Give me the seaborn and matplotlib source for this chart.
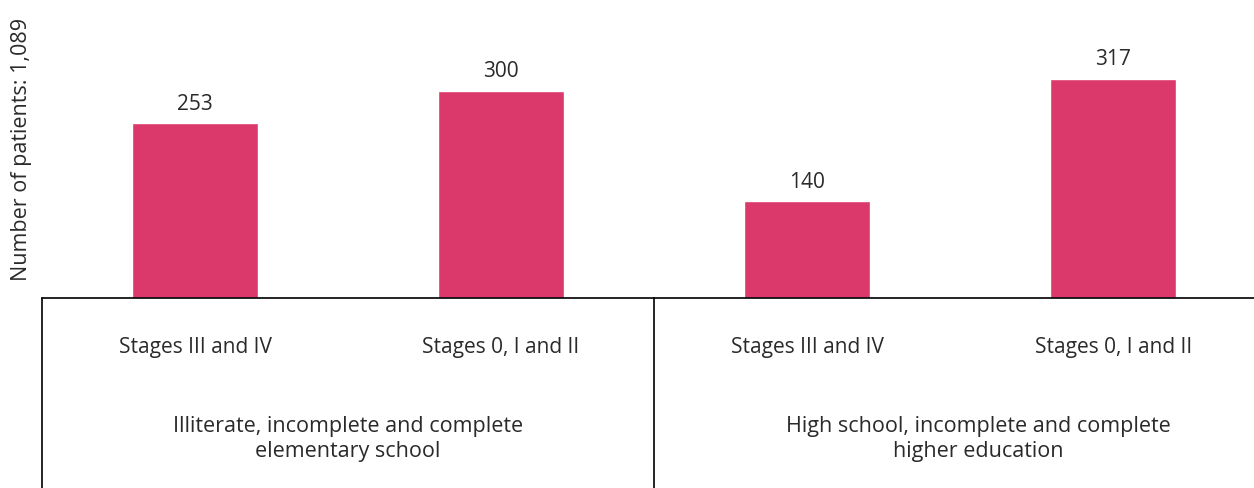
import matplotlib
matplotlib.use("Agg")
import matplotlib.pyplot as plt
import seaborn as sns
import pandas as pd

# data
stages = ["Stages III and IV", "Stages 0, I and II", "Stages III and IV", "Stages 0, I and II"]
groups = ["Illiterate, incomplete and complete\nelementary school",
          "High school, incomplete and complete\nhigher education"]
patients = [253, 300, 140, 317]
ylabel = "Number of patients: 1,089"

BAR_COLOR = "#DB386C"
TXT_COLOR = "#2a2a2a"

sns.set_theme(style="white")
plt.rcParams['font.family'] = ['Open Sans', 'DejaVu Sans']

dfrm = pd.DataFrame({
    'key': ["{G}|{S}".format(G=i // 2, S=s) for i, s in enumerate(stages)],
    'patients': patients,
})

fig = plt.figure(figsize=(12.54, 4.88), dpi=100)
axes = fig.add_axes([42/1254, 190/488, 1212/1254, 298/488])
sns.barplot(data=dfrm, x='key', y='patients', color=BAR_COLOR, saturation=1,
            width=0.41, ax=axes)
for cont in axes.containers:
    axes.bar_label(cont, padding=6, fontsize=15, color=TXT_COLOR)

axes.set_xlim(-0.5, 3.46)
axes.set_ylim(0, 431)
axes.set_yticks([])
axes.set_xticks(range(len(stages)))
axes.set_xticklabels(stages, fontsize=15, color=TXT_COLOR)
axes.tick_params(axis='x', length=0, pad=28)
axes.set_xlabel("")
axes.set_ylabel(ylabel, fontsize=15.5, color=TXT_COLOR)
axes.yaxis.set_label_coords(-20/1212, 0.5)
axes.yaxis.label.set_verticalalignment('center')

for side in ['top', 'right', 'left']:
    axes.spines[side].set_visible(False)
axes.spines['bottom'].set_color('black')
axes.spines['bottom'].set_linewidth(1.2)

# group separators below the axis
trans = axes.get_xaxis_transform()
for xsep in [-0.5, 1.5]:
    axes.plot([xsep, xsep], [0, -190/298], color='black', lw=1.2,
              transform=trans, clip_on=False)

for xpos, grp in zip([0.5, 2.56], groups):
    axes.text(xpos, -141/298, grp, transform=trans, ha='center', va='center',
              multialignment='center', fontsize=15.5, color=TXT_COLOR, linespacing=1.3)

fig.savefig("out.png", dpi=100)
